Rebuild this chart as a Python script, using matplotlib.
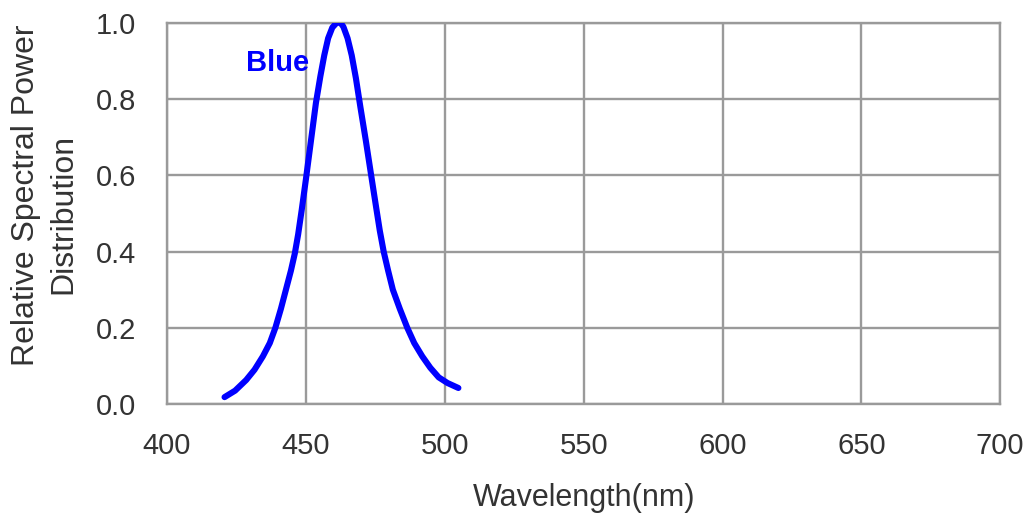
import matplotlib.pyplot as plt
import numpy as np

# spectral curve
wavelength = [420.7, 424.5, 428.5, 431.5, 434.5, 437.0, 439.0, 441.0, 442.8, 444.6,
              446.0, 447.2, 448.5, 450.0, 451.8, 453.6, 455.2, 456.6, 458.0, 459.5,
              461.0, 462.2, 463.5, 465.0, 466.5, 468.0, 469.6, 471.6, 473.5, 475.2,
              476.6, 478.0, 479.6, 481.3, 483.8, 486.5, 489.0, 491.9, 494.8, 497.8,
              501.0, 504.9]
power = [0.018, 0.035, 0.063, 0.090, 0.125, 0.160, 0.200, 0.250, 0.300, 0.350,
         0.395, 0.445, 0.510, 0.590, 0.690, 0.790, 0.860, 0.915, 0.960, 0.988,
         1.000, 1.003, 0.990, 0.960, 0.915, 0.855, 0.780, 0.690, 0.600, 0.520,
         0.455, 0.400, 0.350, 0.300, 0.250, 0.200, 0.160, 0.125, 0.095, 0.070,
         0.055, 0.042]

xticks = [400, 450, 500, 550, 600, 650, 700]
yticks = [0.0, 0.2, 0.4, 0.6, 0.8, 1.0]

plt.rcParams['font.family'] = ['Liberation Sans', 'DejaVu Sans']

fig = plt.figure(figsize=(10.28, 5.19), dpi=100)
ax = fig.add_axes([0.1625, 0.2216, 0.8105, 0.7341])

grid_c = '#9a9a9a'
txt_c = '#333333'
ax.plot(wavelength, power, color='#0000ff', lw=4.4, solid_capstyle='round',
        solid_joinstyle='round', zorder=3)
ax.text(439.7, 0.895, 'Blue', color='#0000ff', fontsize=21, fontweight='bold',
        ha='center', va='center')

ax.set_xlim(400, 700)
ax.set_ylim(0, 1.0)
ax.set_xticks(xticks)
ax.set_yticks(yticks)
ax.set_yticklabels(['%.1f' % v for v in yticks])
ax.grid(True, color=grid_c, lw=1.7)
ax.set_axisbelow(True)
for s in ax.spines.values():
    s.set_color(grid_c)
    s.set_linewidth(1.7)
ax.tick_params(length=0, labelsize=21, colors=txt_c, pad=20)
ax.tick_params(axis='y', pad=22)

ax.set_xlabel('Wavelength(nm)', fontsize=22, color=txt_c, labelpad=17)
fig.text(26 / 1028, 1 - 195 / 519, 'Relative Spectral Power', rotation=90,
         fontsize=23, color=txt_c, ha='center', va='center')
fig.text(63 / 1028, 1 - 214 / 519, 'Distribution', rotation=90,
         fontsize=23, color=txt_c, ha='center', va='center')

fig.savefig('out.png', dpi=100)
